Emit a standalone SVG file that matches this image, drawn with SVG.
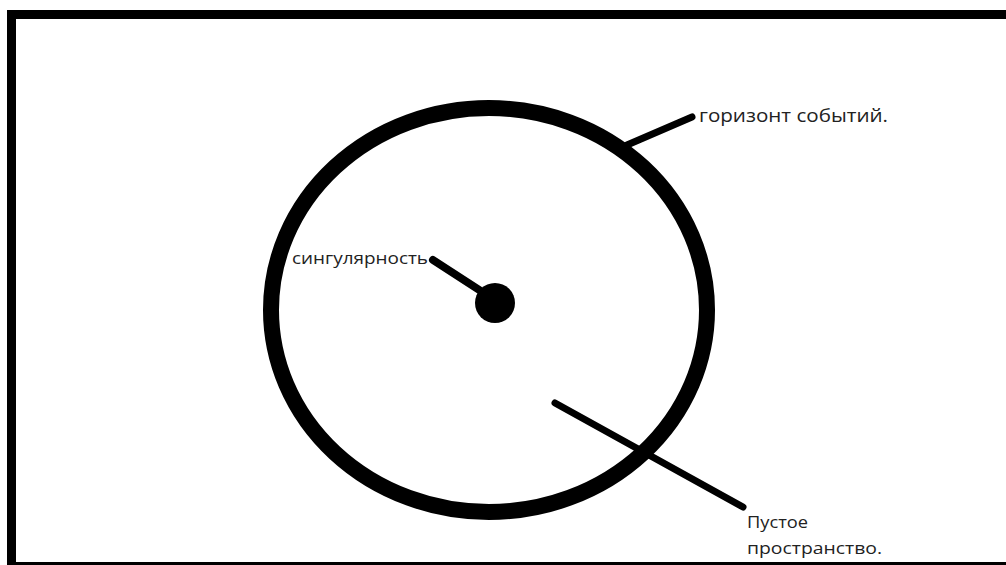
<svg xmlns="http://www.w3.org/2000/svg" width="1006" height="565" viewBox="0 0 1006 565">
<style>
.lbl{font-family:"Open Sans","Noto Sans","DejaVu Sans",sans-serif;fill:#222}
.ln{stroke:#000;stroke-linecap:round;fill:none}
</style>
<rect x="0" y="0" width="1006" height="565" fill="#fff"/>
<g id="frame">
<rect x="7" y="10" width="999" height="9" fill="#000"/>
<rect x="7" y="10" width="9" height="555" fill="#000"/>
<rect x="7" y="562" width="999" height="3" fill="#000"/>
</g>
<g id="horizon"><ellipse cx="489" cy="310" rx="218" ry="202" fill="none" stroke="#000" stroke-width="16"/></g>
<g id="singularity"><circle cx="495" cy="303" r="20" fill="#000"/></g>
<g id="connectors">
<line class="ln" x1="433" y1="260" x2="487" y2="295" stroke-width="8"/>
<line class="ln" x1="627" y1="145" x2="692" y2="117" stroke-width="7"/>
<line class="ln" x1="555" y1="403" x2="743" y2="507" stroke-width="7"/>
</g>
<g id="label-horizon"><text class="lbl" x="699" y="122" font-size="18" textLength="189" lengthAdjust="spacingAndGlyphs">горизонт событий.</text></g>
<g id="label-singularity"><text class="lbl" x="292" y="264" font-size="15.5" textLength="136" lengthAdjust="spacingAndGlyphs">сингулярность</text></g>
<g id="label-space"><text class="lbl" font-size="17"><tspan x="747" y="528" textLength="61" lengthAdjust="spacingAndGlyphs">Пустое</tspan><tspan x="747" y="554" textLength="135" lengthAdjust="spacingAndGlyphs">пространство.</tspan></text></g>
</svg>
